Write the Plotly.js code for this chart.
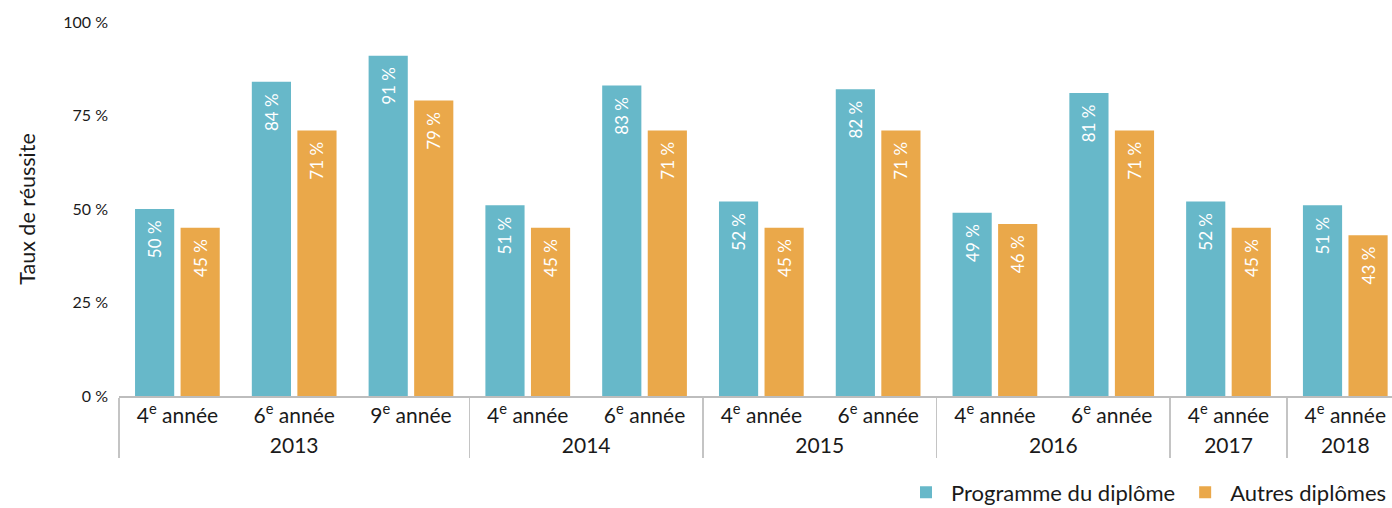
<!DOCTYPE html>
<html>
<head>
<meta charset="utf-8">
<script src="https://cdn.plot.ly/plotly-3.0.1.min.js"></script>
<style>html,body{margin:0;padding:0;background:#fff;}#chart{width:1392px;height:508px;}</style>
</head>
<body>
<div id="chart"></div>
<script>
const years  = ["2013","2013","2013","2014","2014","2015","2015","2016","2016","2017","2018"];
const grades = ["4<sup>e</sup> année","6<sup>e</sup> année","9<sup>e</sup> année","4<sup>e</sup> année","6<sup>e</sup> année","4<sup>e</sup> année","6<sup>e</sup> année","4<sup>e</sup> année","6<sup>e</sup> année","4<sup>e</sup> année","4<sup>e</sup> année"];
const programmeDiplome = [50, 84, 91, 51, 83, 52, 82, 49, 81, 52, 51];
const autresDiplomes   = [45, 71, 79, 45, 71, 45, 71, 46, 71, 45, 43];
const seriesNames = ["Programme du diplôme", "Autres diplômes"];
const yTicks = [0, 25, 50, 75, 100];

const FONT = "Lato, 'Noto Sans', sans-serif";
const fmt = v => v + " %";
const barLabel = v => v + " %\u2002";

const common = {
  type: "bar",
  x: [years, grades],
  textposition: "inside",
  insidetextanchor: "end",
  textangle: -90,
  textfont: {color: "#ffffff", size: 17, family: FONT},
  hoverinfo: "skip"
};

const data = [
  Object.assign({}, common, {name: seriesNames[0], y: programmeDiplome, text: programmeDiplome.map(barLabel), marker: {color: "#67B8C9"}}),
  Object.assign({}, common, {name: seriesNames[1], y: autresDiplomes, text: autresDiplomes.map(barLabel), marker: {color: "#EAA84A"}})
];

const layout = {
  width: 1392, height: 508,
  margin: {l: 119, r: 0, t: 22, b: 112, autoexpand: false},
  paper_bgcolor: "#fff", plot_bgcolor: "#fff",
  font: {family: FONT, color: "#1a1a1a"},
  barmode: "group",
  bargap: 0.22,
  bargroupgap: 0.14,
  showlegend: true,
  legend: {
    orientation: "h", x: 1, xanchor: "right", y: -0.258, yanchor: "middle",
    font: {size: 22, family: FONT, color: "#1a1a1a"},
    itemwidth: 40, traceorder: "normal"
  },
  xaxis: {
    type: "multicategory",
    range: [-0.5, 10.4],
    automargin: false,
    showline: true, linecolor: "#bdbdbd", linewidth: 2,
    showgrid: false, zeroline: false,
    showdividers: true, dividercolor: "#c4c4c4", dividerwidth: 1.5,
    tickfont: {size: 21, family: FONT, color: "#1a1a1a"},
    ticks: "outside", ticklen: 14, tickcolor: "rgba(0,0,0,0)"
  },
  yaxis: {
    range: [0, 100],
    automargin: false,
    tickvals: yTicks,
    ticktext: yTicks.map(fmt),
    showgrid: false, zeroline: false, showline: false,
    ticklabelstandoff: 10,
    tickfont: {size: 16, family: FONT, color: "#1a1a1a"},
    title: {text: "Taux de réussite", font: {size: 21.5, family: FONT, color: "#1a1a1a"}, standoff: 21}
  }
};

Plotly.newPlot("chart", data, layout, {displayModeBar: false, staticPlot: true});
</script>
</body>
</html>
